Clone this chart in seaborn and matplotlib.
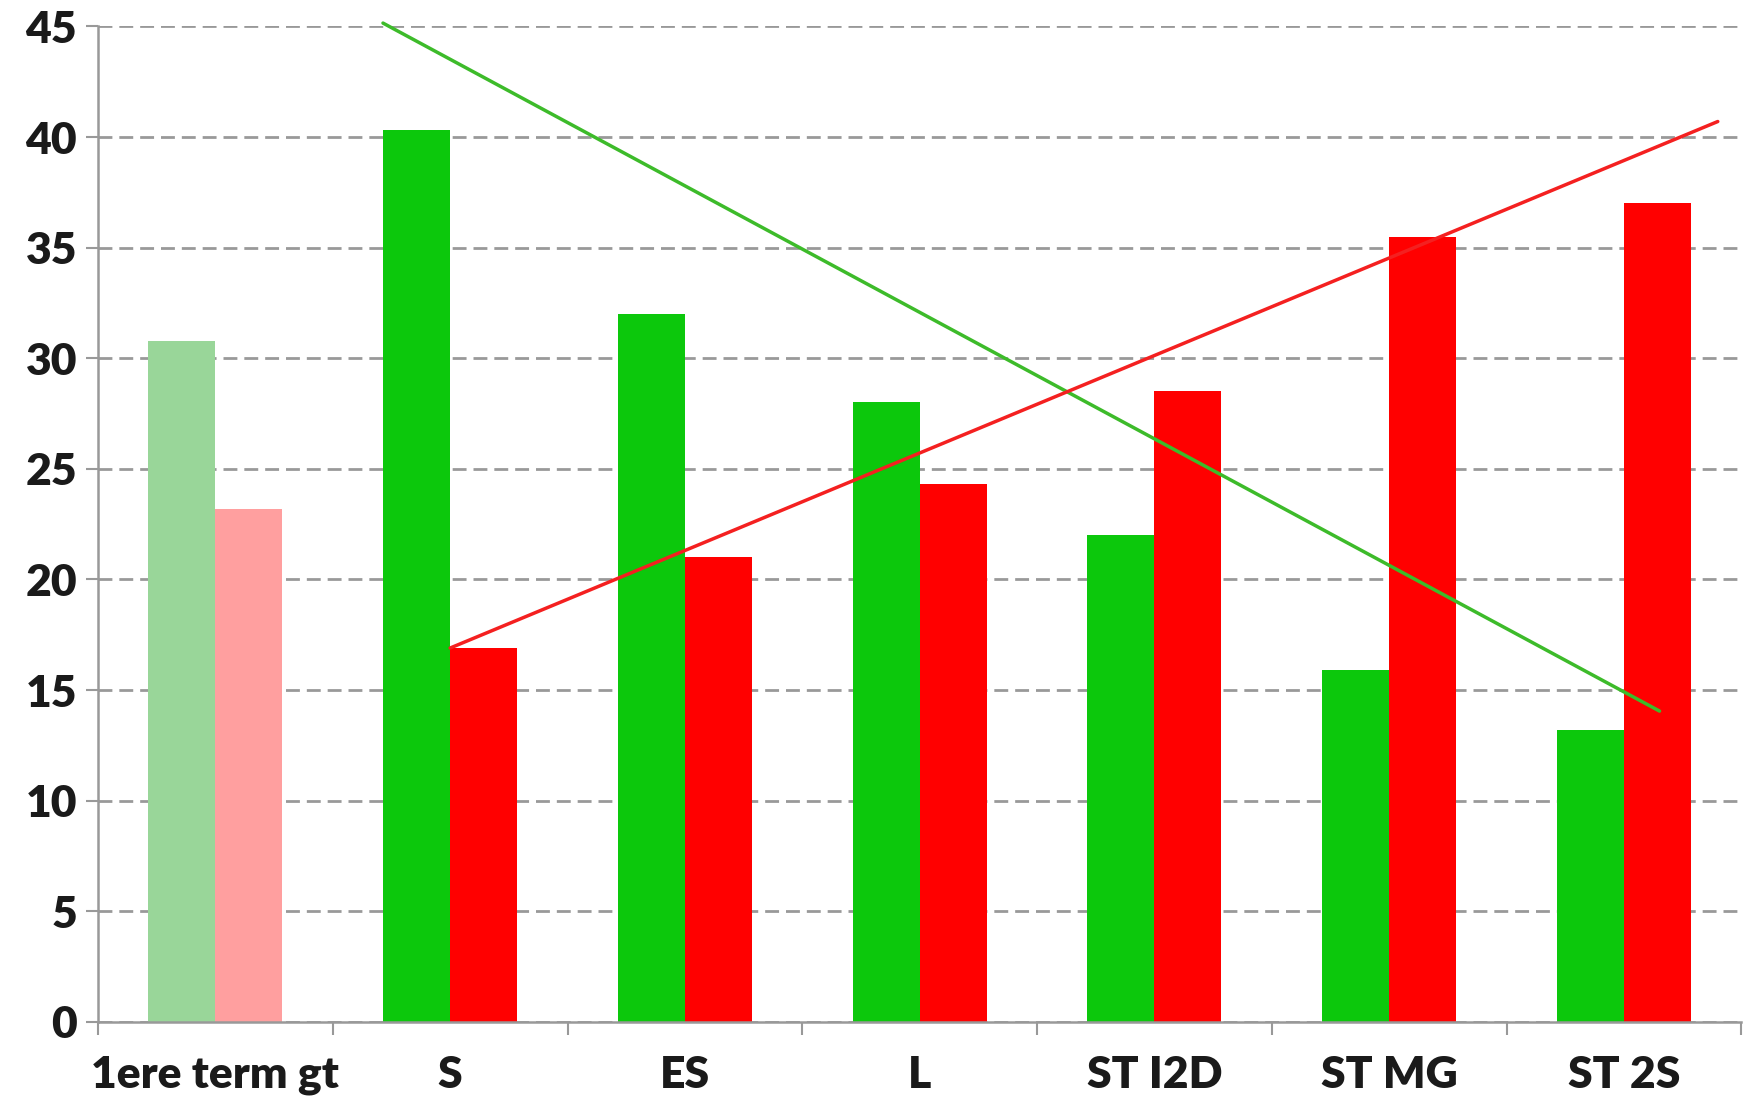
import pandas as pd
import matplotlib.pyplot as plt
import seaborn as sns
import numpy as np

categories = ['1ere term gt', 'S', 'ES', 'L', 'ST I2D', 'ST MG', 'ST 2S']
green_vals = [30.8, 40.3, 32.0, 28.0, 22.0, 15.9, 13.2]
red_vals = [23.2, 16.9, 21.0, 24.3, 28.5, 35.5, 37.0]

# tendances (extrémités des droites, en unités de catégorie)
green_trend_x = [0.714, 6.152]
green_trend_y = [45.15, 14.05]
red_trend_x = [1.0, 6.4]
red_trend_y = [16.9, 40.7]

GREEN = '#0CC80C'
RED = '#FF0000'
GREEN_LIGHT = '#99D699'
RED_LIGHT = '#FF9F9F'

df = pd.DataFrame({
    'cat': categories * 2,
    'val': green_vals + red_vals,
    'serie': ['vert'] * len(categories) + ['rouge'] * len(categories),
})

sns.set_style('white')
plt.rcParams['font.family'] = ['Lato', 'DejaVu Sans']

fig = plt.figure(figsize=(17.5, 11), dpi=100)
ax = fig.add_axes([0.056, 0.071, 0.939, 0.905])

sns.barplot(data=df, x='cat', y='val', hue='serie', order=categories,
            palette={'vert': GREEN, 'rouge': RED}, width=0.5714, gap=0,
            saturation=1, legend=False, ax=ax, zorder=2)

# première catégorie en couleurs pâles
ax.containers[0].patches[0].set_facecolor(GREEN_LIGHT)
ax.containers[1].patches[0].set_facecolor(RED_LIGHT)
for c in ax.containers:
    for p in c.patches:
        p.set_edgecolor('none')

sns.lineplot(x=green_trend_x, y=green_trend_y, color='#3DBB2A', linewidth=2.5,
             ax=ax, zorder=4, clip_on=False)
sns.lineplot(x=red_trend_x, y=red_trend_y, color='#F42020', linewidth=2.5,
             ax=ax, zorder=4, clip_on=False)

ax.set_xlim(-0.5, 6.5)
ax.set_ylim(0, 45)
ax.set_yticks(np.arange(0, 46, 5))
ax.yaxis.grid(True, linestyle=(0, (5, 2.5)), color='#999999', linewidth=2, zorder=0)
ax.set_axisbelow(True)

for s in ['top', 'right']:
    ax.spines[s].set_visible(False)
for s in ['left', 'bottom']:
    ax.spines[s].set_color('#999999')
    ax.spines[s].set_linewidth(1.8)

ax.set_xlabel('')
ax.set_ylabel('')
ax.set_xticks(range(len(categories)))
ax.set_xticklabels(categories)
ax.set_xticks(np.arange(-0.5, 7, 1), minor=True)
ax.tick_params(axis='x', which='major', length=0, pad=24, labelsize=32)
ax.tick_params(axis='x', which='minor', length=9, width=1.5, color='#999999',
               direction='out', bottom=True)
ax.tick_params(axis='y', which='major', length=9, width=1.5, color='#999999',
               direction='out', labelsize=32, pad=6, left=True)
for lab in ax.get_xticklabels() + ax.get_yticklabels():
    lab.set_fontweight('heavy')
    lab.set_color('#1a1a1a')

plt.savefig('out.png', dpi=100)
